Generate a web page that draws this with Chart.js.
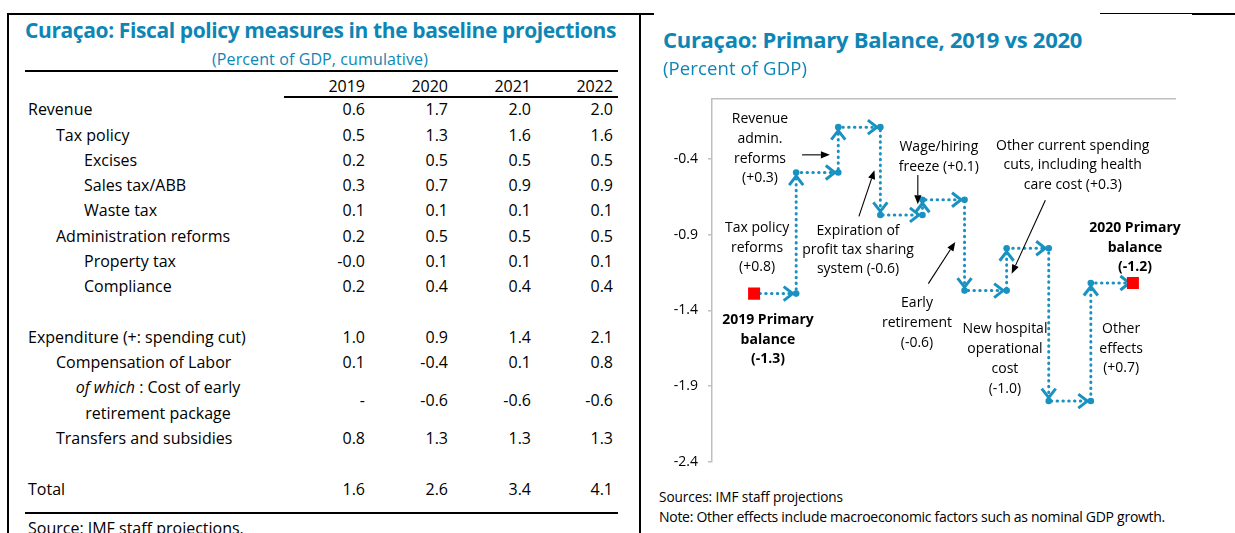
<!DOCTYPE html>
<html><head><meta charset="utf-8">
<script src="https://cdn.jsdelivr.net/npm/chart.js@4.4.1/dist/chart.umd.min.js"></script>
<style>
html,body{margin:0;padding:0;background:#fff;}
body{width:1235px;height:533px;position:relative;overflow:hidden;font-family:"Open Sans",sans-serif;color:#000;}
.abs{position:absolute;white-space:nowrap;}
.rule{position:absolute;background:#000;}
#c{position:absolute;left:650px;top:80px;}
</style></head><body>
<canvas id="c" width="585" height="400"></canvas>
<script>
// ---------- Table data ----------
const tableYears = ['2019', '2020', '2021', '2022'];
const rowLabels = ['Revenue', 'Tax policy', 'Excises', 'Sales tax/ABB', 'Waste tax', 'Administration reforms',
  'Property tax', 'Compliance', '', 'Expenditure (+: spending cut)', 'Compensation of Labor',
  '<i>of which</i> : Cost of early|retirement package', 'Transfers and subsidies', '', 'Total'];
const rowIndent = [0, 1, 2, 2, 2, 1, 2, 2, 0, 0, 1, -1, 1, 0, 0];
const rowSpan   = [1, 1, 1, 1, 1, 1, 1, 1, 1, 1, 1, 2, 1, 1, 1];
const values2019 = ['0.6', '0.5', '0.2', '0.3', '0.1', '0.2', '-0.0', '0.2', '', '1.0', '0.1', '-', '0.8', '', '1.6'];
const values2020 = ['1.7', '1.3', '0.5', '0.7', '0.1', '0.5', '0.1', '0.4', '', '0.9', '-0.4', '-0.6', '1.3', '', '2.6'];
const values2021 = ['2.0', '1.6', '0.5', '0.9', '0.1', '0.5', '0.1', '0.4', '', '1.4', '0.1', '-0.6', '1.3', '', '3.4'];
const values2022 = ['2.0', '1.6', '0.5', '0.9', '0.1', '0.5', '0.1', '0.4', '', '2.1', '0.8', '-0.6', '1.3', '', '4.1'];

// ---------- Chart data ----------
const stepNames = ['', '2019 Primary balance', 'Tax policy reforms', 'Revenue admin. reforms',
  'Expiration of profit tax sharing system', 'Wage/hiring freeze', 'Early retirement',
  'Other current spending cuts', 'New hospital operational cost', 'Other effects', '2020 Primary balance', ''];
const balanceLevel = [null, -1.29, -0.49, -0.19, -0.77, -0.67, -1.27, -0.99, -2.00, -1.22, -1.22, null];
const endpointLevel = [null, -1.29, null, null, null, null, null, null, null, null, -1.22, null];
const yTickValues = [-2.4, -1.9, -1.4, -0.9, -0.4];
const annotationText = [
  ['Revenue', 'admin.', 'reforms', '(+0.3)'],
  ['Tax policy', 'reforms', '(+0.8)'],
  ['Expiration of', 'profit tax sharing', 'system (-0.6)'],
  ['Wage/hiring', 'freeze (+0.1)'],
  ['Other current spending', 'cuts, including health', 'care cost (+0.3)'],
  ['2020 Primary', 'balance', '(-1.2)'],
  ['Early', 'retirement', '(-0.6)'],
  ['New hospital', 'operational', 'cost', '(-1.0)'],
  ['Other', 'effects', '(+0.7)'],
  ['2019 Primary', 'balance', '(-1.3)']
];

// ---------- placement (data units) ----------
const annotationPlace = [
  {x: 1.14, y: -0.132, lh: 19.6},
  {x: 1.07, y: -0.852, lh: 19.5},
  {x: 3.47, y: -0.867, lh: 19.2},
  {x: 5.39, y: -0.316, lh: 19.3},
  {x: 8.57, y: -0.305, lh: 19.7},
  {x: 10.05, y: -0.852, lh: 19.5, bold: true},
  {x: 4.87, y: -1.347, lh: 19.7},
  {x: 6.96, y: -1.520, lh: 19.8},
  {x: 9.72, y: -1.520, lh: 19.2},
  {x: 1.33, y: -1.461, lh: 19.5, bold: true}
];
const pointerPlace = [
  {from: [2.14, -0.373], to: [2.80, -0.373]},
  {from: [3.49, -0.780], to: [3.86, -0.474]},
  {from: [4.89, -0.506], to: [4.89, -0.700]},
  {from: [7.92, -0.673], to: [7.12, -1.159]},
  {from: [5.14, -1.224], to: [5.78, -0.949]}
];

const TEAL = '#0E86B5';
const STEP = '#1A92C1';
const FONT = '"Open Sans", sans-serif';
const meas = document.createElement('canvas').getContext('2d');

function txt(html, x, yc, o = {}) {
  const fs = o.size || 16;
  const d = document.createElement('div');
  d.className = 'abs';
  d.style.font = `${o.italic ? 'italic ' : ''}${o.bold ? 700 : 400} ${fs}px ${FONT}`;
  d.style.lineHeight = (fs * 1.362) + 'px';
  d.style.color = o.color || '#000';
  d.innerHTML = html;
  if (o.width) {
    meas.font = d.style.font;
    const plain = d.textContent;
    const w = meas.measureText(plain).width;
    d.style.letterSpacing = ((o.width - w) / plain.length) + 'px';
  }
  d.style.top = (yc - 0.712 * fs) + 'px';
  document.body.appendChild(d);
  const w = d.getBoundingClientRect().width;
  const a = o.align || 'left';
  d.style.left = (a === 'right' ? x - w : a === 'center' ? x - w / 2 : x) + 'px';
  return d;
}
function rule(x1, x2, y, t) {
  const d = document.createElement('div');
  d.className = 'rule';
  d.style.left = x1 + 'px'; d.style.width = (x2 - x1) + 'px';
  d.style.top = (y - t / 2) + 'px'; d.style.height = t + 'px';
  document.body.appendChild(d);
}
function vrule(x, y1, y2, t) {
  const d = document.createElement('div');
  d.className = 'rule';
  d.style.left = (x - t / 2) + 'px'; d.style.width = t + 'px';
  d.style.top = y1 + 'px'; d.style.height = (y2 - y1) + 'px';
  document.body.appendChild(d);
}

function buildTable() {
  rule(7, 654, 14, 2);
  rule(1100, 1192, 13.5, 1.2);
  rule(1192, 1235, 14, 2.4);
  vrule(8, 13, 533, 2);
  vrule(639.5, 13, 533, 2);
  txt('Curaçao: Fiscal policy measures in the baseline projections', 320.5, 31, {size: 21, bold: true, color: TEAL, align: 'center', width: 591});
  txt('(Percent of GDP, cumulative)', 320, 60, {size: 16, color: TEAL, align: 'center', width: 216});
  rule(25, 618, 70.7, 2);
  const colRight = [365, 448, 531, 613];
  tableYears.forEach((y, i) => txt(y, colRight[i], 87, {size: 16, align: 'right'}));
  rule(284, 618, 96.7, 2);
  const indentX = [28, 56, 84];
  const cols = [values2019, values2020, values2021, values2022];
  let slot = 0;
  rowLabels.forEach((lab, r) => {
    const span = rowSpan[r];
    const yc = 110.7 + 25.29 * (slot + (span - 1) / 2);
    if (lab) {
      if (rowIndent[r] < 0) {
        const parts = lab.split('|');
        parts.forEach((p, k) => txt(p, 158, 110.7 + 25.29 * (slot + k), {size: 16, align: 'center'}));
      } else {
        txt(lab, indentX[rowIndent[r]], yc, {size: 16});
      }
    }
    cols.forEach((c, i) => { if (c[r]) txt(c[r], colRight[i], yc, {size: 16, align: 'right'}); });
    slot += span;
  });
  rule(25, 618, 512.7, 2);
  txt('Source: IMF staff projections.', 28, 529, {size: 16});

  // chart titles & notes
  txt('Curaçao: Primary Balance, 2019 vs 2020', 663, 40.5, {size: 22, bold: true, color: TEAL, width: 419});
  txt('(Percent of GDP)', 663, 68.5, {size: 18.5, color: TEAL, width: 144});
  txt('Sources: IMF staff projections', 659, 498, {size: 13.6, width: 184});
  txt('Note: Other effects include macroeconomic factors such as nominal GDP growth.', 659, 517, {size: 14, width: 506});
}

function chevron(ctx, x, y, dx, dy) {
  const L = 9, W = 7;
  ctx.beginPath();
  ctx.moveTo(x - dx * L - dy * W, y - dy * L + dx * W);
  ctx.lineTo(x, y);
  ctx.lineTo(x - dx * L + dy * W, y - dy * L - dx * W);
  ctx.stroke();
}
function dot(ctx, x, y) {
  ctx.beginPath(); ctx.arc(x, y, 3.3, 0, Math.PI * 2); ctx.fill();
}
function pointer(ctx, x1, y1, x2, y2) {
  const a = Math.atan2(y2 - y1, x2 - x1), L = 9, W = 3.6;
  const bx = x2 - Math.cos(a) * L, by = y2 - Math.sin(a) * L;
  ctx.beginPath(); ctx.moveTo(x1, y1); ctx.lineTo(bx, by); ctx.stroke();
  ctx.beginPath();
  ctx.moveTo(x2, y2);
  ctx.lineTo(bx - Math.sin(a) * W, by + Math.cos(a) * W);
  ctx.lineTo(bx + Math.sin(a) * W, by - Math.cos(a) * W);
  ctx.closePath(); ctx.fill();
}

const stepDecor = {
  id: 'stepDecor',
  afterDatasetDraw(chart, args) {
    if (args.index !== 1) return;
    const ctx = chart.ctx, pts = args.meta.data;
    const idx = balanceLevel.map((v, i) => v === null ? -1 : i).filter(i => i >= 0);
    ctx.save();
    ctx.strokeStyle = STEP; ctx.fillStyle = STEP; ctx.lineWidth = 3;
    ctx.setLineDash([]); ctx.lineCap = 'butt'; ctx.lineJoin = 'miter';
    for (let n = 0; n < idx.length - 1; n++) {
      const p = pts[idx[n]], q = pts[idx[n + 1]];
      chevron(ctx, q.x - 3.5, p.y, 1, 0);
      dot(ctx, q.x, p.y);
      if (Math.abs(q.y - p.y) > 1) {
        const s = Math.sign(q.y - p.y);
        chevron(ctx, q.x, q.y - s * 3.5, 0, s);
        dot(ctx, q.x, q.y);
      }
    }
    ctx.restore();
  },
  afterDraw(chart) {
    const ctx = chart.ctx, xs = chart.scales.x, ys = chart.scales.y;
    const X = v => xs.getPixelForValue(v), Y = v => ys.getPixelForValue(v);
    ctx.save();
    ctx.fillStyle = '#000'; ctx.textAlign = 'center'; ctx.textBaseline = 'alphabetic';
    annotationText.forEach((lines, k) => {
      const pl = annotationPlace[k];
      ctx.font = `${pl.bold ? 700 : 400} 14px ${FONT}`;
      lines.forEach((s, j) => ctx.fillText(s, X(pl.x), Y(pl.y) + j * pl.lh + 5));
    });
    ctx.strokeStyle = '#000'; ctx.lineWidth = 1.1;
    pointerPlace.forEach(p => pointer(ctx, X(p.from[0]), Y(p.from[1]), X(p.to[0]), Y(p.to[1])));
    ctx.restore();
  }
};

function buildChart() {
  new Chart(document.getElementById('c'), {
    type: 'line',
    data: {
      labels: stepNames,
      datasets: [
        {label: 'Primary balance', data: endpointLevel, showLine: false, pointStyle: 'rect',
          pointRadius: 8.5, pointBackgroundColor: '#FF0000', pointBorderColor: '#FF0000', pointBorderWidth: 0},
        {label: 'Contributions', data: balanceLevel, stepped: 'before', borderColor: STEP, borderWidth: 3,
          borderDash: [0.5, 5.3], borderCapStyle: 'round', pointRadius: 0, fill: false}
      ]
    },
    options: {
      responsive: false, animation: false, events: [],
      layout: {padding: {left: 0, right: 60, top: 13, bottom: 17}},
      plugins: {legend: {display: false}, tooltip: {enabled: false}},
      scales: {
        x: {position: 'top', offset: false, ticks: {display: false},
          grid: {display: false, drawTicks: false},
          border: {display: true, color: '#BFBFBF', width: 1.5},
          afterFit(s) { s.height = 0; }},
        y: {min: -2.4, max: 0,
          afterBuildTicks(s) { s.ticks = yTickValues.map(v => ({value: v})); },
          ticks: {callback: v => v.toFixed(1), font: {family: 'Open Sans', size: 14}, color: '#000', padding: 10},
          grid: {drawOnChartArea: false, drawTicks: true, tickLength: 4, color: '#BFBFBF', lineWidth: 1.5},
          border: {display: true, color: '#BFBFBF', width: 1.5},
          afterFit(s) { s.width = 62; }}
      }
    },
    plugins: [stepDecor]
  });
}

Promise.all([
  document.fonts.load(`400 16px ${FONT}`),
  document.fonts.load(`700 16px ${FONT}`),
  document.fonts.load(`italic 400 16px ${FONT}`)
]).catch(() => {}).then(() => { buildTable(); buildChart(); });
</script>
</body></html>
